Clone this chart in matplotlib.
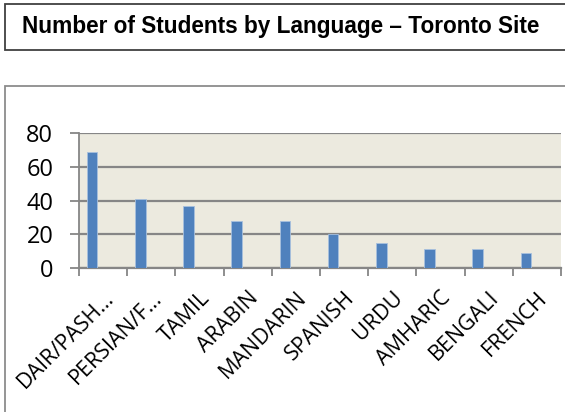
import matplotlib
matplotlib.use("Agg")
import matplotlib.pyplot as plt
from matplotlib.patches import Rectangle
import numpy as np

languages = ["DAIR/PASH…", "PERSIAN/F…", "TAMIL", "ARABIN", "MANDARIN",
             "SPANISH", "URDU", "AMHARIC", "BENGALI", "FRENCH"]
students = [69, 41, 37, 28, 28, 20, 15, 11, 11, 9]
yticks = [0, 20, 40, 60, 80]

fig = plt.figure(figsize=(5.65, 4.12), dpi=100)

# title box
fig.patches.append(Rectangle((5 / 565, 1 - 50 / 412), 1.0, 46 / 412,
                             transform=fig.transFigure, facecolor="white",
                             edgecolor="#404040", linewidth=1.3, zorder=-2))
fig.text(22 / 565, 1 - 27 / 412, "Number of Students by Language \u2013 Toronto Site",
         fontfamily="Liberation Sans", fontweight="bold", fontsize=16.3,
         va="center", ha="left")

# chart frame
fig.patches.append(Rectangle((5 / 565, -0.1), 1.0, 1 - 86 / 412 + 0.1,
                             transform=fig.transFigure, facecolor="white",
                             edgecolor="#8c8c8c", linewidth=1.3, zorder=-2))

ax = fig.add_axes([79 / 565, 1 - 268 / 412, (561 - 79) / 565, 135 / 412])
ax.set_facecolor("#ECEADF")

x = np.arange(len(languages))
bw = 0.22
ax.bar(x - 0.23, students, width=bw, color="#4F81BD", edgecolor="#A7C0DE",
       linewidth=0.6, zorder=3)

ax.set_xlim(-0.5, len(languages) - 0.5)
ax.set_ylim(0, 80)
ax.set_yticks(yticks)
ax.set_yticklabels([str(v) for v in yticks], fontfamily="Open Sans", fontsize=17)
ax.yaxis.grid(True, color="#868686", linewidth=1.6, zorder=1)
ax.set_axisbelow(True)

ax.set_xticks(x)
ax.set_xticklabels(languages, rotation=45, ha="right", rotation_mode="anchor",
                   fontfamily="Open Sans", fontsize=15.5)
ax.set_xticks(np.arange(len(languages) + 1) - 0.5, minor=True)
ax.tick_params(axis="x", which="major", length=0, pad=14)
ax.tick_params(axis="x", which="minor", length=6, width=1.3, color="#868686")
ax.tick_params(axis="y", length=6.5, width=1.3, color="#868686", pad=12)

for s in ["top", "right"]:
    ax.spines[s].set_visible(False)
ax.spines["left"].set_color("#868686")
ax.spines["left"].set_linewidth(1.3)
ax.spines["bottom"].set_color("#868686")
ax.spines["bottom"].set_linewidth(1.6)

fig.savefig("out.png", dpi=100)
